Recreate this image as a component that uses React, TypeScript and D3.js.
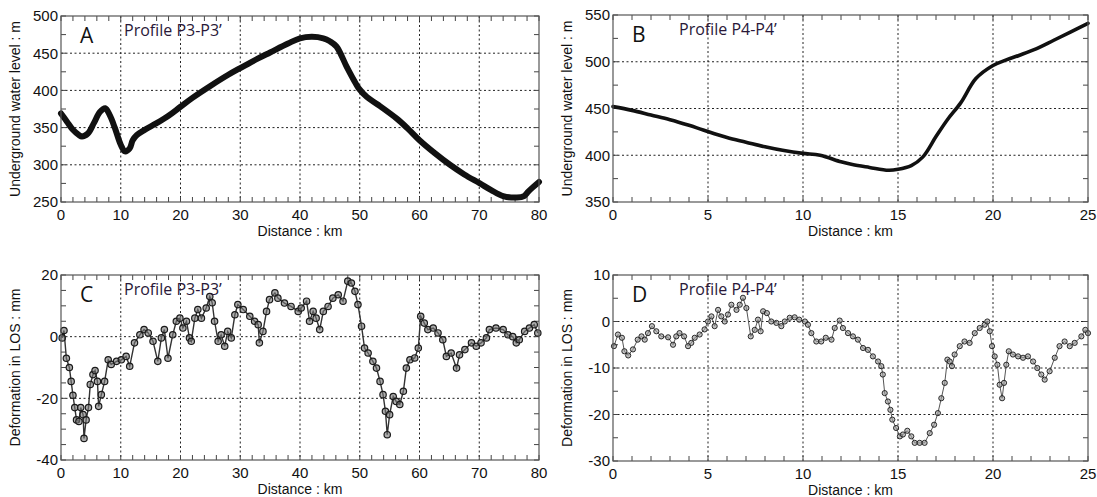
import React from "react";
import * as d3 from "d3";

// ---------- DATA ----------
const aDist = [0, 1, 2, 3, 3.5, 4.5, 5.5, 6.5, 7.4, 8.2, 9, 10, 10.7, 11.5, 12, 12.7, 14, 16, 18, 20, 22, 25, 28, 30, 33, 35, 38, 40, 42, 43.9, 45, 46.1, 47.8, 49, 49.8, 51.2, 53, 56.2, 58, 60, 62.5, 65.1, 67.5, 70.1, 72, 74, 76.3, 77.5, 78.2, 79, 80];
const aLevel = [369, 358, 347, 340, 338, 342, 356, 371, 376, 366, 350, 327, 318, 322, 333, 340, 347, 356, 366, 378, 390, 406, 421, 430, 443, 451, 463, 470, 472, 470, 466, 459, 432, 414, 403, 391, 381, 362, 349, 333, 316, 300, 287, 275, 266, 258, 256, 258, 264, 270, 277];

const bDist = [0, 1, 2, 3, 4, 4.75, 6, 7, 8, 9, 10, 10.9, 12, 12.6, 13.5, 14.5, 15, 15.7, 16.3, 17.0, 17.6, 18.3, 19.1, 20, 20.7, 21.4, 22.3, 23.2, 24.1, 25];
const bLevel = [452, 448, 443, 438, 432, 427, 419, 414, 409, 405, 402, 400, 393, 390, 387, 384, 385, 389, 398, 420, 438, 456, 482, 496, 502, 507, 514, 523, 532, 541];

const cDist = [0.2, 0.5, 0.9, 1.4, 1.7, 2.0, 2.3, 2.6, 3.0, 3.3, 3.7, 3.85, 4.2, 4.6, 4.9, 5.35, 5.7, 6.1, 6.3, 6.75, 7.3, 7.9, 8.4, 9.3, 10.1, 10.9, 11.5, 12.3, 13.2, 13.9, 14.6, 15.4, 16.2, 16.8, 17.3, 17.9, 18.7, 19.3, 19.9, 20.4, 21.0, 21.5, 21.8, 22.4, 22.9, 23.5, 24.3, 24.9, 25.3, 25.7, 26.3, 26.8, 27.4, 27.9, 28.5, 29.1, 29.6, 30.5, 31.6, 32.4, 33.0, 33.2, 33.8, 34.4, 34.9, 35.8, 36.3, 37.4, 38.5, 39.7, 40.2, 41.1, 41.6, 42.2, 42.7, 43.3, 43.9, 44.7, 45.5, 46.4, 47.2, 48.0, 48.6, 49.2, 49.7, 50.3, 50.8, 51.4, 52.2, 52.8, 53.4, 53.9, 54.3, 54.6, 55.0, 55.6, 56.1, 56.7, 57.3, 57.8, 58.4, 59.2, 59.8, 60.2, 60.8, 61.4, 62.3, 63.1, 63.9, 64.5, 65.3, 66.2, 66.7, 67.6, 68.7, 69.5, 70.3, 71.2, 71.7, 72.8, 74.0, 74.8, 75.6, 76.2, 76.7, 77.6, 78.4, 79.2, 79.8];
const cDef = [-0.4, 2, -7, -10, -14.5, -19, -23, -27, -27.5, -23, -25.3, -33, -27, -23, -15.5, -12.3, -11, -14.5, -22.6, -18.8, -14.5, -7.5, -9, -8, -7.5, -6.4, -9.6, -2, 0.6, 2.3, 1.2, -1.5, -8, -0.4, 2.3, -7, 0.6, 5, 6, 2.8, 5, -0.4, -1.5, 6, 8.8, 6, 9.3, 13, 11, 5, -1.5, 0.6, -3.1, 1.7, -0.4, 7.1, 10.4, 8.8, 6.6, 5, 3.9, -2, 1.7, 8.2, 12, 14.2, 12.5, 10.9, 9.8, 8.2, 9.3, 11.5, 5, 8.2, 6, 2.3, 8.2, 9.8, 12.5, 13.6, 11.5, 18, 17.4, 14.7, 10.4, 3.4, -3.7, -5.3, -8, -10.2, -14.5, -18.8, -24.2, -31.8, -25.3, -19.4, -21, -22, -17.7, -10.2, -7.5, -6.9, -3.7, 6.6, 4.4, 2.3, 2.8, 1.2, -1, -6.4, -5.3, -10.2, -5.9, -4.2, -2, -3.1, -2, -0.4, 2.3, 2.8, 2.3, 0.6, 0, -2, -1, 1.7, 2.8, 3.9, 1.2];

const dDist = [0.05, 0.26, 0.47, 0.6, 0.8, 1.05, 1.3, 1.5, 1.67, 1.84, 2.05, 2.28, 2.54, 2.9, 3.16, 3.33, 3.5, 3.74, 3.95, 4.12, 4.3, 4.56, 4.82, 5.0, 5.18, 5.35, 5.53, 5.7, 5.88, 6.05, 6.23, 6.5, 6.67, 6.84, 7.02, 7.25, 7.46, 7.63, 7.77, 7.9, 8.1, 8.33, 8.6, 8.86, 9.04, 9.3, 9.56, 9.8, 10.1, 10.26, 10.44, 10.7, 10.96, 11.2, 11.5, 11.67, 11.93, 12.1, 12.37, 12.63, 12.89, 13.16, 13.42, 13.68, 13.95, 14.12, 14.2, 14.3, 14.47, 14.6, 14.7, 14.9, 15.1, 15.26, 15.49, 15.7, 15.88, 16.14, 16.4, 16.67, 16.9, 17.1, 17.28, 17.46, 17.6, 17.72, 17.84, 17.98, 18.25, 18.5, 18.77, 19.04, 19.3, 19.56, 19.7, 19.83, 19.95, 20.09, 20.23, 20.35, 20.48, 20.58, 20.7, 20.83, 21.05, 21.32, 21.58, 21.84, 22.11, 22.33, 22.54, 22.72, 22.98, 23.25, 23.5, 23.77, 24.04, 24.3, 24.65, 24.86, 25.0];
const dDef = [-5.3, -2.8, -3.5, -6.4, -7.3, -6, -3.9, -3.2, -3.9, -2.5, -1.0, -2.1, -3.2, -3.4, -5, -3.2, -2.5, -3.2, -5.3, -4.6, -3.5, -2.8, -1.7, 0, 1.1, -1.0, 2.5, 1.1, 0, 1.5, 3.6, 2.5, 3.6, 5.1, 2.9, -3.2, -1.8, 0.4, -2.1, 2.2, 1.8, 0, -0.3, -1.0, 0, 0.8, 0.9, 0.4, 0, -0.7, -2.5, -4.3, -4.3, -3.5, -3.9, -1.4, 0.2, -1.4, -2.5, -3.2, -3.9, -5.7, -6.1, -7.5, -8.6, -9.6, -11.4, -15.4, -17.2, -19, -21.1, -22.9, -24.7, -24.3, -23.5, -24.7, -26.1, -26.1, -26.1, -24, -22.2, -19.7, -16.5, -13.2, -8.2, -8.6, -9.6, -7.1, -5.3, -4.3, -4.6, -2.5, -1.4, -0.7, 0, -2.1, -5.3, -7.5, -9.3, -13.6, -16.5, -13.2, -9.3, -6.4, -7.1, -7.5, -7.8, -7.5, -8.6, -10, -11.4, -12.5, -10.7, -7.8, -5.3, -4.3, -5.3, -4.6, -3.2, -1.8, -2.5];

const xTicksA = [0, 10, 20, 30, 40, 50, 60, 70, 80];
const yTicksA = [250, 300, 350, 400, 450, 500];
const xTicksB = [0, 5, 10, 15, 20, 25];
const yTicksB = [350, 400, 450, 500, 550];
const yTicksC = [-40, -20, 0, 20];
const yTicksD = [-30, -20, -10, 0, 10];

type PanelProps = {
  left: number; right: number; top: number; bottom: number;
  xDomain: [number, number]; yDomain: [number, number];
  xTicks: number[]; yTicks: number[]; xMinor: number; yMinor: number;
  letter: string; title: string; ylabel: string;
  xs: number[]; ys: number[];
  kind: "thick" | "medium" | "markers" | "markersSmall";
};

const LABEL_FONT = "'Liberation Sans', Arial, sans-serif";
const TITLE_FONT = "'Open Sans', 'Noto Sans', sans-serif";

function Panel(p: PanelProps) {
  const x = d3.scaleLinear().domain(p.xDomain).range([p.left, p.right]);
  const y = d3.scaleLinear().domain(p.yDomain).range([p.bottom, p.top]);
  const xMinorTicks = d3.range(p.xDomain[0], p.xDomain[1] + 1e-9, p.xMinor);
  const yMinorTicks = d3.range(p.yDomain[0], p.yDomain[1] + 1e-9, p.yMinor);
  const pts: [number, number][] = p.xs.map((v, i) => [v, p.ys[i]]);
  const curve = p.kind === "thick" || p.kind === "medium" ? d3.curveCatmullRom : d3.curveLinear;
  const line = d3.line<[number, number]>().x(d => x(d[0])).y(d => y(d[1])).curve(curve);
  const tl = 5;
  const midX = (p.left + p.right) / 2;
  const midY = (p.top + p.bottom) / 2;
  const big = p.kind === "markers";
  return (
    <g>
      {p.xTicks.slice(1, -1).map(t => (
        <line key={"gx" + t} x1={x(t)} x2={x(t)} y1={p.top} y2={p.bottom} stroke="#222" strokeWidth={1} strokeDasharray="2,2.5" />
      ))}
      {p.yTicks.slice(1, -1).map(t => (
        <line key={"gy" + t} x1={p.left} x2={p.right} y1={y(t)} y2={y(t)} stroke="#222" strokeWidth={1} strokeDasharray="2,2.5" />
      ))}
      {xMinorTicks.map(t => (
        <g key={"tx" + t}>
          <line x1={x(t)} x2={x(t)} y1={p.bottom} y2={p.bottom - tl} stroke="#444" />
          <line x1={x(t)} x2={x(t)} y1={p.top} y2={p.top + tl} stroke="#444" />
        </g>
      ))}
      {yMinorTicks.map(t => (
        <g key={"ty" + t}>
          <line x1={p.left} x2={p.left + tl} y1={y(t)} y2={y(t)} stroke="#444" />
          <line x1={p.right} x2={p.right - tl} y1={y(t)} y2={y(t)} stroke="#444" />
        </g>
      ))}
      {p.kind === "thick" && (
        <path d={line(pts) || ""} fill="none" stroke="#111" strokeWidth={6} strokeLinejoin="round" strokeLinecap="round" />
      )}
      {p.kind === "medium" && (
        <path d={line(pts) || ""} fill="none" stroke="#111" strokeWidth={3.6} strokeLinejoin="round" strokeLinecap="round" />
      )}
      {(p.kind === "markers" || p.kind === "markersSmall") && (
        <g>
          <path d={line(pts) || ""} fill="none" stroke={big ? "#333" : "#555"} strokeWidth={big ? 1.4 : 1} />
          {pts.map((d, i) => (
            <circle key={i} cx={x(d[0])} cy={y(d[1])} r={big ? 3.2 : 2.6}
              fill={big ? "#777" : "#9a9a9a"} fillOpacity={0.6} stroke="#1a1a1a" strokeWidth={big ? 1.2 : 0.9} />
          ))}
        </g>
      )}
      <rect x={p.left} y={p.top} width={p.right - p.left} height={p.bottom - p.top} fill="none" stroke="#555" strokeWidth={1.2} />
      {p.xTicks.map(t => (
        <text key={"lx" + t} x={x(t)} y={p.bottom + 18} textAnchor="middle" fontFamily={LABEL_FONT} fontSize={15} fill="#111">{t}</text>
      ))}
      {p.yTicks.map(t => (
        <text key={"ly" + t} x={p.left - 3} y={y(t)} dy="0.36em" textAnchor="end" fontFamily={LABEL_FONT} fontSize={15} fill="#111">{t}</text>
      ))}
      <text x={midX} y={p.bottom + 34} textAnchor="middle" fontFamily={LABEL_FONT} fontSize={14} fill="#111">Distance : km</text>
      <text transform={`translate(${p.left - 41},${midY}) rotate(-90)`} textAnchor="middle" fontFamily={LABEL_FONT} fontSize={14} fill="#111">{p.ylabel}</text>
      <text x={p.left + 19} y={p.top + 27} fontFamily={TITLE_FONT} fontSize={21} fill="#111">{p.letter}</text>
      <text x={p.left + (p.letter === "A" || p.letter === "C" ? 63 : 66)} y={p.top + 20} fontFamily={TITLE_FONT} fontSize={16} fill="#2a1838">{p.title}</text>
    </g>
  );
}

export default function App() {
  return (
    <svg width={1097} height={497} style={{ position: "absolute", left: 0, top: 0, background: "#fff" }}>
      <rect width={1097} height={497} fill="#fff" />
      <Panel left={61} right={539} top={16} bottom={202} xDomain={[0, 80]} yDomain={[250, 500]}
        xTicks={xTicksA} yTicks={yTicksA} xMinor={2} yMinor={25}
        letter="A" title="Profile P3-P3’" ylabel="Underground water level : m"
        xs={aDist} ys={aLevel} kind="thick" />
      <Panel left={613} right={1088} top={15} bottom={202} xDomain={[0, 25]} yDomain={[350, 550]}
        xTicks={xTicksB} yTicks={yTicksB} xMinor={1} yMinor={25}
        letter="B" title="Profile P4-P4’" ylabel="Underground water level : m"
        xs={bDist} ys={bLevel} kind="medium" />
      <Panel left={61} right={539} top={275} bottom={460} xDomain={[0, 80]} yDomain={[-40, 20]}
        xTicks={xTicksA} yTicks={yTicksC} xMinor={2} yMinor={5}
        letter="C" title="Profile P3-P3’" ylabel="Deformation in LOS : mm"
        xs={cDist} ys={cDef} kind="markers" />
      <Panel left={613} right={1088} top={275} bottom={461} xDomain={[0, 25]} yDomain={[-30, 10]}
        xTicks={xTicksB} yTicks={yTicksD} xMinor={1} yMinor={5}
        letter="D" title="Profile P4-P4’" ylabel="Deformation in LOS : mm"
        xs={dDist} ys={dDef} kind="markersSmall" />
    </svg>
  );
}
